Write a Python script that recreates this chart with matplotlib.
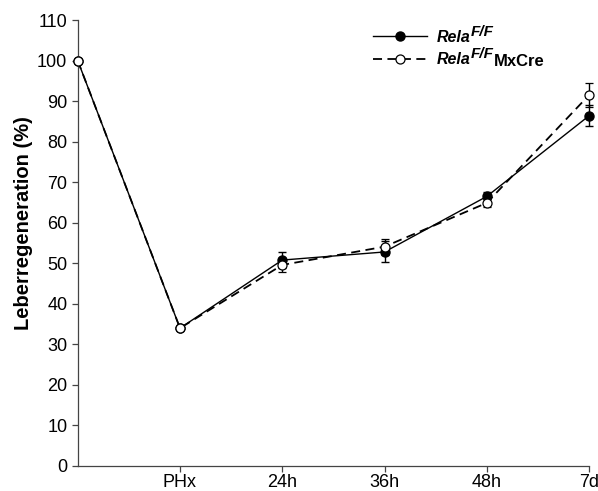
import matplotlib
matplotlib.use("Agg")
import matplotlib.pyplot as plt

plt.rcParams.update({"font.family": "Liberation Sans"})

x_pos = [0, 1, 2, 3, 4, 5]
tick_labels = ["", "PHx", "24h", "36h", "48h", "7d"]

ctrl_mean = [100, 34, 50.8, 52.8, 66.5, 86.4]
ctrl_err = [0, 0, 2.0, 2.6, 1.1, 2.6]
ko_mean = [100, 34, 49.6, 54.1, 64.9, 91.5]
ko_err = [0, 0, 1.7, 2.0, 0.9, 3.0]

fig = plt.figure(figsize=(5.98, 4.91), dpi=100)
ax = fig.add_axes([0.130, 0.051, 0.855, 0.908])

ctrl = ax.errorbar(x_pos, ctrl_mean, yerr=ctrl_err, color="black", linestyle="-", linewidth=1.0,
                   marker="o", markersize=6.5, markerfacecolor="black", markeredgecolor="black",
                   ecolor="black", elinewidth=1.0, capsize=3, capthick=1.0, zorder=2, clip_on=False)
ko = ax.errorbar(x_pos, ko_mean, yerr=ko_err, color="black", linestyle=(0, (5, 3)), linewidth=1.3,
                 marker="o", markersize=6.5, markerfacecolor="white", markeredgecolor="black",
                 markeredgewidth=0.9, ecolor="black", elinewidth=1.0, capsize=3, capthick=1.0,
                 zorder=3, clip_on=False)

ax.set_xlim(0, 5)
ax.set_ylim(0, 110)
ax.set_yticks(range(0, 111, 10))
ax.set_xticks(x_pos[1:])
ax.set_xticklabels(tick_labels[1:])
ax.set_ylabel("Leberregeneration (%)", fontsize=14.5, fontweight="bold")
ax.yaxis.set_label_coords(-0.088, 0.545)

for side in ["top", "right"]:
    ax.spines[side].set_visible(False)
for side in ["left", "bottom"]:
    ax.spines[side].set_color("#444444")
    ax.spines[side].set_linewidth(0.9)
ax.tick_params(direction="out", length=4, width=0.9, color="#444444", labelsize=13)
ax.tick_params(axis="x", pad=2)

leg = ax.legend(handles=[ctrl[0], ko[0]], labels=["Rela", "Rela"], loc="upper left",
                bbox_to_anchor=(0.577, 0.978), frameon=False, borderpad=0, borderaxespad=0,
                handlelength=3.4, handletextpad=0.6, labelspacing=0.45,
                prop={"size": 11.5, "weight": "bold", "style": "italic"})

# superscripts and suffix attached to the legend labels (drawn after the legend)
sup_kw = dict(fontsize=11, fontweight="bold", fontstyle="italic", ha="left", va="bottom", zorder=10)
texts = leg.get_texts()
sups = [ax.annotate("F/F", xy=(1.0, 0.42), xycoords=t, **sup_kw) for t in texts]
ax.annotate("MxCre", xy=(1.0, -0.12), xycoords=(sups[1], texts[1]), fontsize=12,
            fontweight="bold", ha="left", va="bottom", zorder=11)

fig.savefig("out.png", dpi=100)
